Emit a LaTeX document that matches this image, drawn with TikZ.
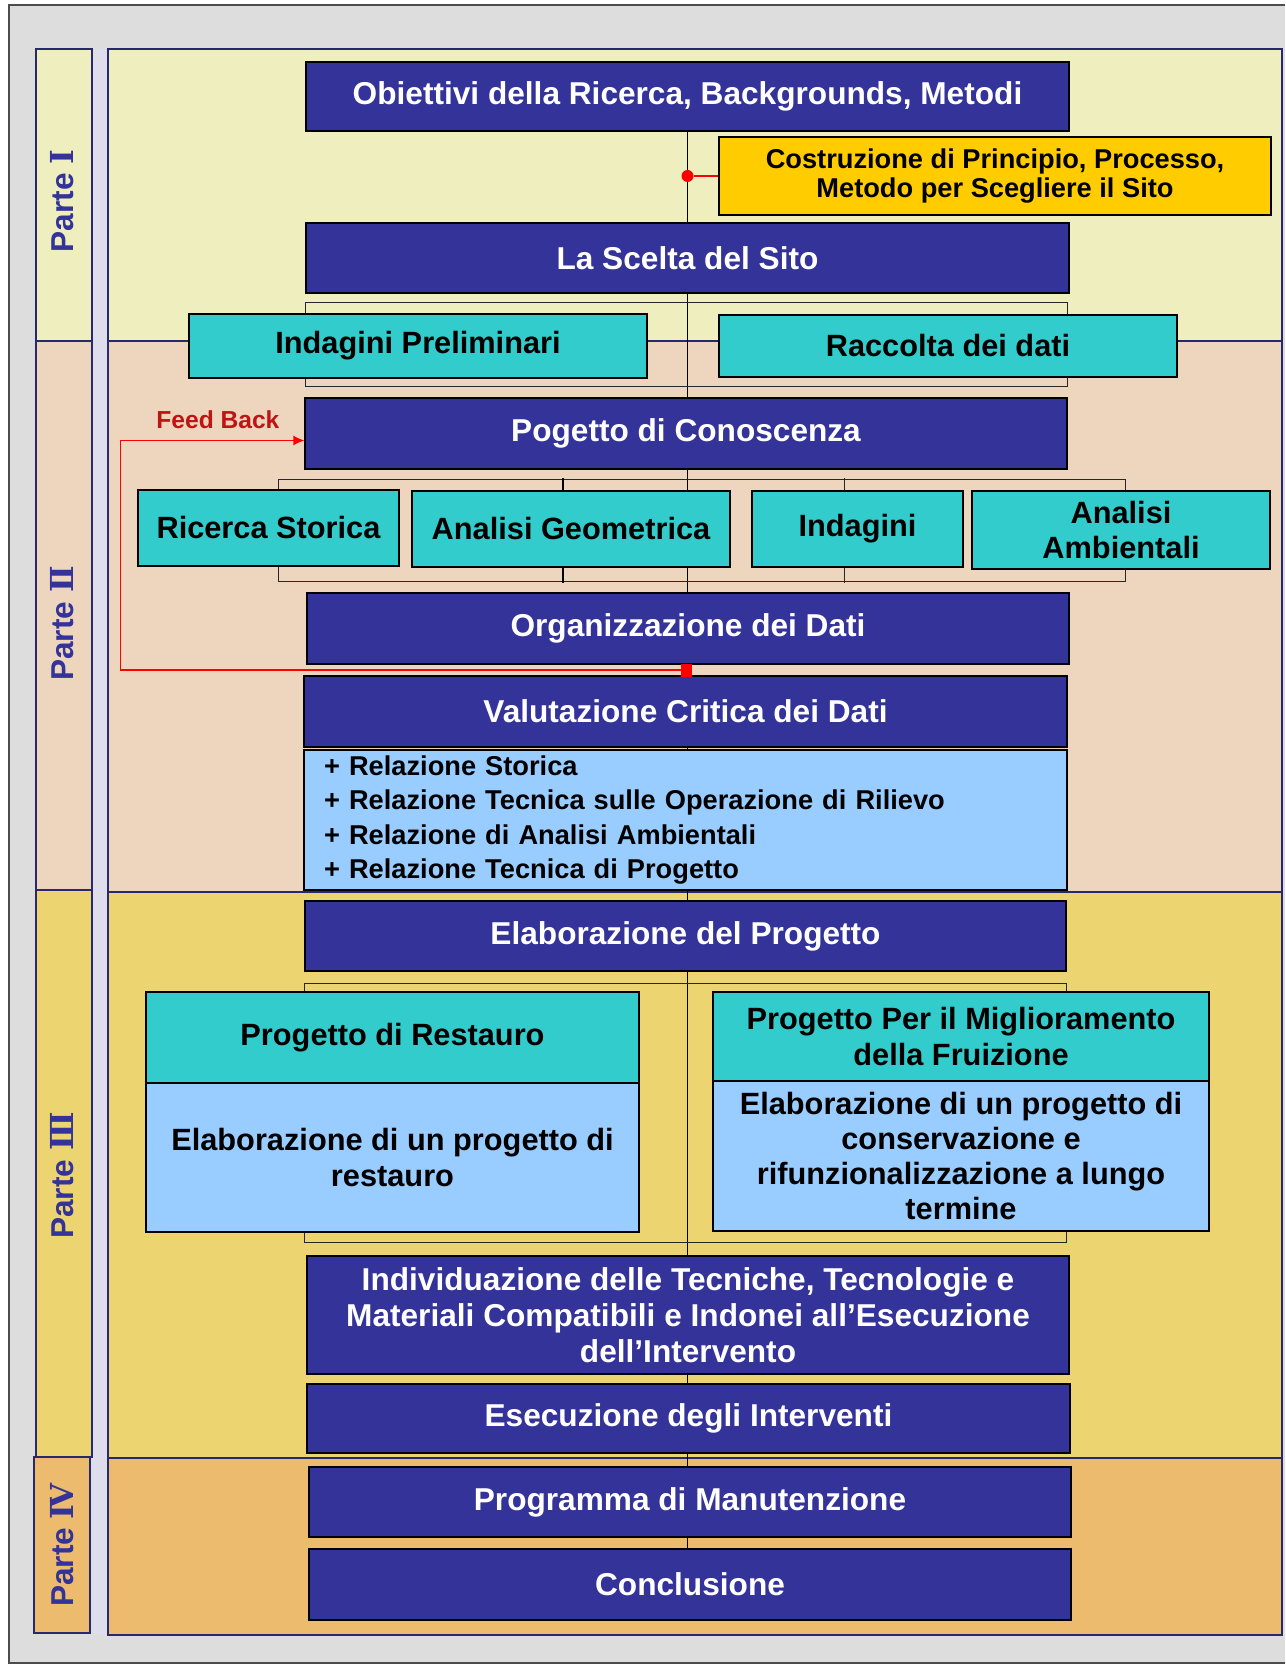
\documentclass[tikz,border=0pt]{standalone}
\usepackage{fontspec}
\setmainfont{Liberation Sans}
\newfontfamily\numfont{DejaVu Serif}
\usetikzlibrary{fit,calc,arrows.meta}

\definecolor{navy}{RGB}{51,51,153}
\definecolor{tealfill}{RGB}{51,204,204}
\definecolor{paleblue}{RGB}{153,204,255}
\definecolor{goldfill}{RGB}{255,204,0}
\definecolor{bandone}{RGB}{238,238,190}
\definecolor{bandtwo}{RGB}{238,214,190}
\definecolor{bandthree}{RGB}{236,212,112}
\definecolor{bandfour}{RGB}{236,187,110}
\definecolor{framegray}{RGB}{221,221,221}
\definecolor{stripe}{RGB}{221,221,236}
\definecolor{bandline}{RGB}{40,40,110}
\definecolor{fbdark}{RGB}{190,20,20}

\pgfdeclarelayer{back}
\pgfdeclarelayer{conn}
\pgfsetlayers{back,conn,main}

\newcommand{\bigfont}{\fontsize{18}{20.5}\selectfont\bfseries}
\newcommand{\midfont}{\fontsize{17.5}{20}\selectfont\bfseries}
\newcommand{\listfont}{\fontsize{15.5}{19.7}\selectfont\bfseries}
\newcommand{\notefont}{\fontsize{15.5}{17}\selectfont\bfseries}
\newcommand{\fbfont}{\fontsize{14}{16}\selectfont\bfseries}

\begin{document}
\begin{tikzpicture}[x=0.02cm,y=-0.02cm]

\tikzset{dims/.style 2 args={minimum width=#1cm, minimum height=#2cm}}
\tikzstyle{band} = [inner sep=0pt, draw=bandline, line width=0.6pt]
\tikzstyle{partlabel} = [rotate=90, text=navy, font=\bigfont, inner sep=0pt]
\tikzstyle{basebox} = [inner sep=0pt, draw=black, line width=0.8pt, align=center]
\tikzstyle{navybox} = [basebox, fill=navy, text=white, font=\bigfont]
\tikzstyle{tealbox} = [basebox, fill=tealfill, text=black, font=\midfont]
\tikzstyle{palebox} = [basebox, fill=paleblue, text=black, font=\midfont]
\tikzstyle{goldbox} = [basebox, fill=goldfill, text=black, font=\notefont]
\tikzstyle{grpframe} = [draw=black!85, line width=0.6pt]
\tikzstyle{stub} = [draw=black, line width=1.4pt]
\tikzstyle{spine} = [draw=black, line width=0.7pt]
\tikzstyle{redlink} = [draw=red, line width=1.5pt]
\tikzstyle{joint} = [circle, fill=red, inner sep=0pt, minimum size=0.24cm]
\tikzstyle{fbmark} = [rectangle, fill=red, inner sep=0pt, minimum width=0.22cm, minimum height=0.26cm]
\tikzstyle{feedback} = [draw=red, line width=0.8pt, -{Latex[length=0.22cm,width=0.2cm]}]
\tikzstyle{fblabel} = [above=0.22cm, inner sep=0pt, text=fbdark, font=\fbfont]

\useasboundingbox (0,0) rectangle (1285,1665);

% frame, parts and bands
\begin{pgfonlayer}{back}
\fill[white] (0,0) rectangle (1285,1665);
\fill[framegray] (9,5) rectangle (1285,1663);
\draw[black!70, line width=0.8pt] (1285,5) -- (9,5) -- (9,1663) -- (1285,1663);
\fill[stripe] (92,49) rectangle (108,1635);
\node[band, fill=bandone, fit={(108,49)(1282,341)}] (band1) {};
\node[band, fill=bandtwo, fit={(108,341)(1282,892)}] (band2) {};
\node[band, fill=bandthree, fit={(108,892)(1282,1458)}] (band3) {};
\node[band, fill=bandfour, fit={(108,1458)(1282,1635)}] (band4) {};
\node[band, fill=bandone, fit={(36,49)(92,341)}] (col1) {};
\node[band, fill=bandtwo, fit={(36,341)(92,890)}] (col2) {};
\node[band, fill=bandthree, fit={(36,890)(92,1457)}] (col3) {};
\node[band, fill=bandfour, fit={(34,1457)(90,1633)}] (col4) {};
\end{pgfonlayer}

\node[partlabel] (lab1) at ($(col1)+(-2,6)$) {Parte {\numfont Ⅰ}};
\node[partlabel] (lab2) at ($(col2)+(-2,8)$) {Parte {\numfont Ⅱ}};
\node[partlabel] (lab3) at ($(col3)+(-2,2)$) {Parte {\numfont Ⅲ}};
\node[partlabel] (lab4) at (col4) {Parte {\numfont Ⅳ}};

% Parte I
\node[navybox, dims={15.26}{1.38}] (obj) at (687.5,96.5) {Obiettivi della Ricerca, Backgrounds, Metodi};
\node[goldbox, dims={11.04}{1.56}] (costr) at (995,176) {Costruzione di Principio, Processo,\\Metodo per Scegliere il Sito};
\node[navybox, dims={15.26}{1.40}] (scelta) at (687.5,258) {La Scelta del Sito};
\node[tealbox, dims={9.16}{1.28}] (indprel) at (418,346) {Indagini Preliminari};
\node[tealbox, dims={9.16}{1.24}] (racc) at (948,346) {Raccolta dei dati};

% Parte II
\node[navybox, dims={15.24}{1.42}] (pog) at (686,433.5) {Pogetto di Conoscenza};
\node[tealbox, dims={5.22}{1.52}] (rs) at (268.5,528) {Ricerca Storica};
\node[tealbox, dims={6.36}{1.52}] (ag) at (571,529) {Analisi Geometrica};
\node[tealbox, dims={4.22}{1.52}] (ind) at (857.5,529) {Indagini};
\node[tealbox, dims={5.96}{1.56}] (aa) at (1121,530) {Analisi\\Ambientali};
\node[navybox, dims={15.24}{1.42}] (org) at (688,628.5) {Organizzazione dei Dati};
\node[navybox, dims={15.26}{1.42}] (val) at (685.5,711.5) {Valutazione Critica dei Dati};
\node[palebox, dims={15.26}{2.80}, font=\listfont, align=left, text width=14.46cm] (rel) at (685.5,820)
  {+ Relazione Storica\\+ Relazione Tecnica sulle Operazione di Rilievo\\+ Relazione di Analisi Ambientali\\+ Relazione Tecnica di Progetto};

% Parte III
\node[navybox, dims={15.22}{1.40}] (elab) at (685.5,936) {Elaborazione del Progetto};
\node[tealbox, dims={9.86}{1.82}] (resthead) at (392.5,1037.5) {Progetto di Restauro};
\node[palebox, dims={9.86}{2.98}] (restbody) at (392.5,1157.5) {Elaborazione di un progetto di\\restauro};
\node[tealbox, dims={9.92}{1.78}] (mighead) at (961,1036.5) {Progetto Per il Miglioramento\\della Fruizione};
\node[palebox, dims={9.92}{3.00}] (migbody) at (961,1156) {Elaborazione di un progetto di\\conservazione e\\rifunzionalizzazione a lungo\\termine};
\node[navybox, dims={15.24}{2.36}] (indiv) at (688,1315) {Individuazione delle Tecniche, Tecnologie e\\Materiali Compatibili e Indonei all’Esecuzione\\dell’Intervento};
\node[navybox, dims={15.26}{1.38}] (esec) at (688.5,1418.5) {Esecuzione degli Interventi};

% Parte IV
\node[navybox, dims={15.24}{1.40}] (prog) at (690,1502) {Programma di Manutenzione};
\node[navybox, dims={15.24}{1.42}] (concl) at (690,1584.5) {Conclusione};

% connectors under the boxes
\begin{pgfonlayer}{conn}
\draw[spine] (obj) -- (obj |- concl);
\draw[grpframe] ($(scelta.south west)+(0,9)$) rectangle ($(pog.north east)+(0,-11)$);
\draw[grpframe] ($(pog.south west)+(-26,10)$) rectangle ($(org.north east)+(56,-11)$);
\draw[grpframe] ($(elab.south west)+(0,12)$) rectangle ($(indiv.north east)+(-3,-13)$);
\draw[stub] ($(ag.north)+(-8,0)$) -- ($(ag.north)+(-8,-12)$);
\draw[stub] ($(ag.south)+(-8,0)$) -- ($(ag.south)+(-8,15)$);
\draw[grpframe] ($(ind.north)+(-13,0)$) -- ($(ind.north)+(-13,-12)$);
\draw[grpframe] ($(ind.south)+(-13,0)$) -- ($(ind.south)+(-13,15)$);
\end{pgfonlayer}

% red links
\node[joint] (dot1) at (costr.west -| obj) {};
\draw[redlink] (costr.west) -- (dot1);
\node[fbmark] (fbsq) at ($(org.south)!0.5!(val.north)$) {};
\draw[feedback] (fbsq.west) -| ($(pog.west)+(-184,7)$) -- node[fblabel, pos=0.53] (fbtext) {Feed Back} ($(pog.west)+(0,7)$);

\end{tikzpicture}
\end{document}
